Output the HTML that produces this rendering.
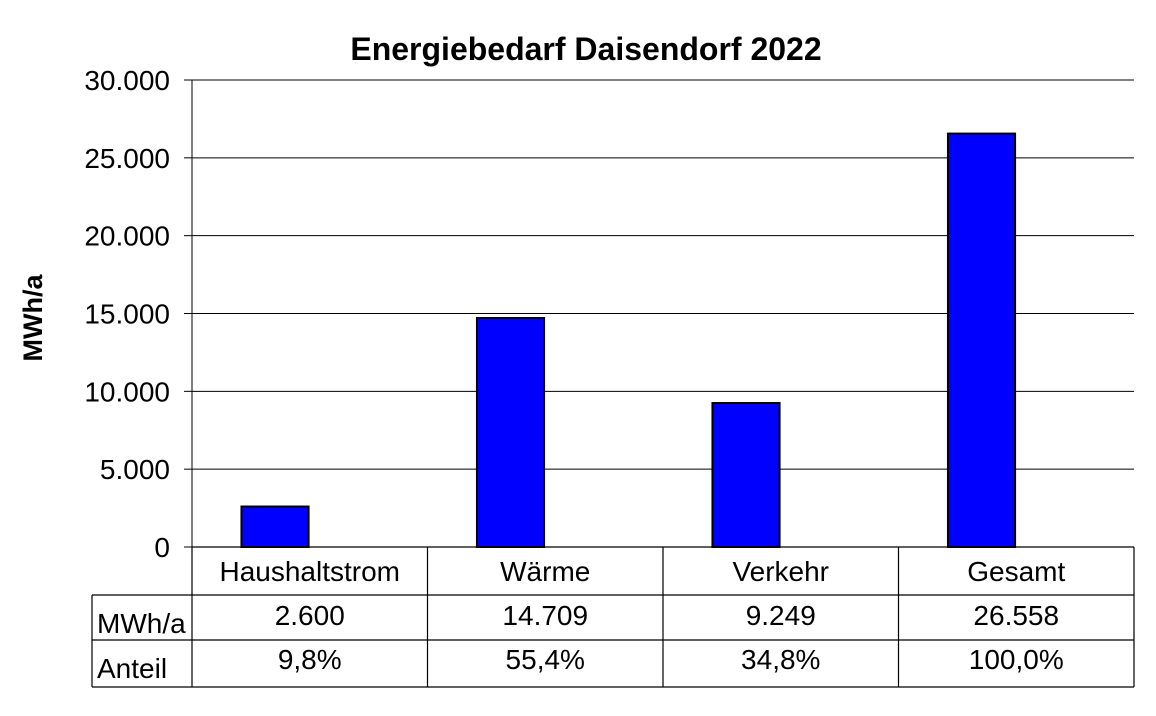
<!DOCTYPE html>
<html><head><meta charset="utf-8"><style>
body{margin:0;background:#fff;}
svg text{font-family:"Liberation Sans",Arial,sans-serif;}
</style></head><body>
<svg id="chart" width="1156" height="711" xmlns="http://www.w3.org/2000/svg">
<text x="586" y="60" font-size="32" font-weight="bold" text-anchor="middle">Energiebedarf Daisendorf 2022</text>
<text transform="translate(42,318) rotate(-90)" font-size="27" font-weight="bold" text-anchor="middle">MWh/a</text>
<g id="grid"></g><g id="bars"></g><g id="table"></g>
</svg>
<script>
const categories=["Haushaltstrom","Wärme","Verkehr","Gesamt"];
const values=[2600,14709,9249,26558];
const valueLabels=["2.600","14.709","9.249","26.558"];
const shareLabels=["9,8%","55,4%","34,8%","100,0%"];
const yTicks=[0,5000,10000,15000,20000,25000,30000];
const yTickLabels=["0","5.000","10.000","15.000","20.000","25.000","30.000"];
const NS="http://www.w3.org/2000/svg";
const L=192,R=1134,T=80,B=547,yMax=30000;
const y=v=>B-(v/yMax)*(B-T);
const cw=(R-L)/categories.length;
const x=i=>L+i*cw;
function mk(tag,attrs,parent,text){const e=document.createElementNS(NS,tag);for(const k in attrs)e.setAttribute(k,attrs[k]);if(text!==undefined)e.textContent=text;parent.appendChild(e);return e;}
const grid=document.getElementById('grid'),bars=document.getElementById('bars'),table=document.getElementById('table');
yTicks.forEach((t,i)=>{
  const g=mk('line',{x1:L,x2:R,y1:y(t),y2:y(t),stroke:'#000','stroke-width':1},grid);
  
  
  const tk=mk('line',{x1:L-8,x2:L,y1:y(t),y2:y(t),stroke:'#000','stroke-width':1},grid);
  
  
  const lb=mk('text',{x:170,y:y(t)+10,'font-size':28,'text-anchor':'end'},grid,yTickLabels[i]);
  
  
});
const ax=mk('line',{x1:L,x2:L,y1:T,y2:B,stroke:'#000','stroke-width':1},grid);


const bw=cw*0.285,boff=cw*0.21;
values.forEach((v,i)=>{
  const r=mk('rect',{x:x(i)+boff,y:y(v),width:bw,height:B-y(v),fill:'#0000ff',stroke:'#000','stroke-width':2},bars);
  
  
});
const rows=[547,595,640,687];
function ln(x1,y1,x2,y2){const l=mk('line',{x1,y1,x2,y2,stroke:'#000','stroke-width':1.2},table);}
ln(L,rows[0],R,rows[0]);ln(92,rows[1],R,rows[1]);ln(92,rows[2],R,rows[2]);ln(92,rows[3],R,rows[3]);
ln(92,rows[1],92,rows[3]);
for(let i=0;i<=categories.length;i++)ln(x(i),rows[0],x(i),rows[3]);
const h1=mk('text',{x:97,y:633,'font-size':28},table,'MWh/a');


const h2=mk('text',{x:97,y:678,'font-size':28},table,'Anteil');


categories.forEach((c,i)=>{
  const cx=x(i)+cw/2;
  const a=mk('text',{x:cx,y:581,'font-size':28,'text-anchor':'middle'},table,c);
  
  
  const b=mk('text',{x:cx,y:625,'font-size':28,'text-anchor':'middle'},table,valueLabels[i]);
  
  
  const d=mk('text',{x:cx,y:669,'font-size':28,'text-anchor':'middle'},table,shareLabels[i]);
  
  
});
</script>
</body></html>
